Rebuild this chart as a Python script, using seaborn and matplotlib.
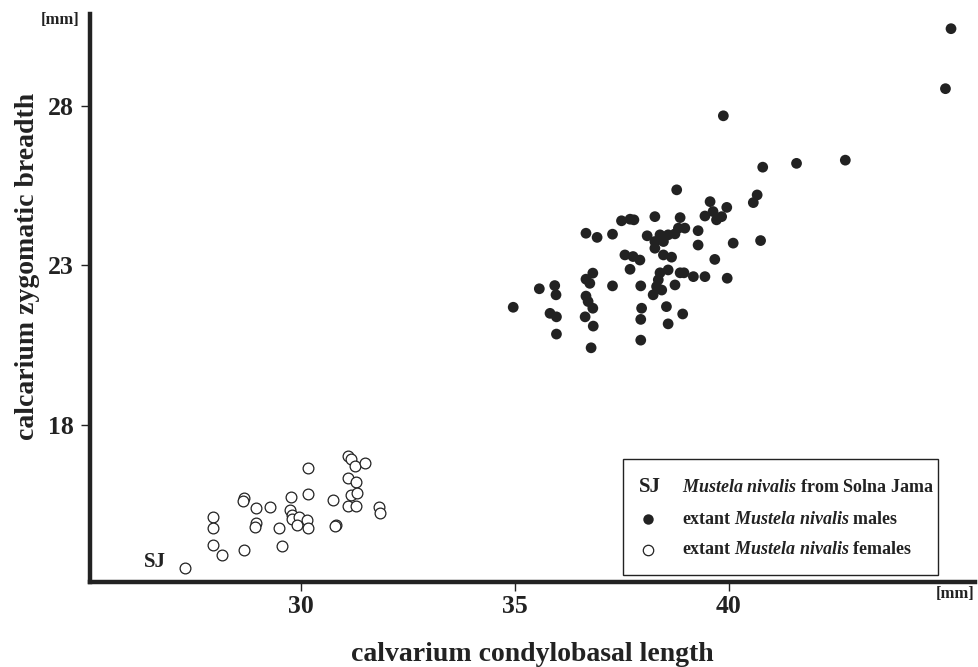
import numpy as np
import pandas as pd
import matplotlib
matplotlib.use('Agg')
import matplotlib.pyplot as plt
from matplotlib.lines import Line2D
from matplotlib.patches import Rectangle
import seaborn as sns

# extant females (open circles)
female_x = [27.95, 27.95, 27.95, 28.16, 28.67, 28.64, 28.96, 29.28, 28.96, 28.93,
            28.67, 29.49, 29.55, 29.77, 29.74, 29.78, 29.78, 29.96, 29.90, 30.15,
            30.16, 30.17, 30.16, 30.74, 30.82, 30.79, 31.11, 31.16, 31.26, 31.50,
            31.11, 31.28, 31.18, 31.30, 31.11, 31.28, 31.83, 31.85]
female_y = [15.13, 14.76, 14.24, 13.92, 15.70, 15.63, 15.39, 15.44, 14.92, 14.79,
            14.08, 14.76, 14.21, 15.75, 15.34, 15.18, 15.04, 15.11, 14.87, 15.02,
            14.78, 16.64, 15.84, 15.65, 14.87, 14.85, 17.04, 16.92, 16.71, 16.80,
            16.33, 16.20, 15.81, 15.88, 15.46, 15.46, 15.44, 15.23]

# extant males (filled)
male_x = [39.87, 40.79, 38.78, 40.66, 40.57, 39.56, 39.95, 39.63, 39.44, 39.71,
          39.83, 38.27, 38.86, 37.49, 37.69, 37.78, 38.97, 38.82, 39.28, 36.66,
          36.92, 37.28, 38.09, 38.39, 38.58, 38.74, 38.27, 38.47, 38.27, 39.28,
          40.10, 40.74, 37.57, 37.76, 37.92, 38.47, 38.66, 39.67, 37.69, 38.39,
          38.58, 38.86, 38.95, 39.17, 39.44, 39.96, 36.82, 36.66, 36.75, 37.28,
          37.94, 38.35, 38.31, 38.43, 38.23, 38.74, 35.57, 35.93, 35.96, 34.96,
          35.82, 35.97, 35.97, 36.66, 36.71, 36.82, 36.64, 36.83, 36.78, 37.96,
          37.94, 37.94, 38.54, 38.58, 38.92, 45.19, 45.06, 42.72, 41.58]
male_y = [27.69, 26.08, 25.37, 25.21, 24.97, 25.00, 24.82, 24.69, 24.55, 24.43,
          24.53, 24.53, 24.50, 24.40, 24.45, 24.43, 24.17, 24.17, 24.09, 24.01,
          23.88, 23.98, 23.93, 23.96, 23.96, 23.99, 23.75, 23.75, 23.54, 23.64,
          23.70, 23.78, 23.33, 23.28, 23.17, 23.33, 23.26, 23.19, 22.88, 22.77,
          22.86, 22.77, 22.77, 22.65, 22.65, 22.60, 22.76, 22.57, 22.44, 22.36,
          22.36, 22.55, 22.34, 22.23, 22.08, 22.39, 22.27, 22.37, 22.08, 21.69,
          21.50, 21.39, 20.85, 22.04, 21.87, 21.66, 21.39, 21.10, 20.42, 21.66,
          21.31, 20.66, 21.71, 21.17, 21.48, 30.42, 28.54, 26.30, 26.20]

# Solna Jama specimen
sj_x = [27.29]
sj_y = [13.53]

legend_labels = [
    r'$Mustela\ nivalis$ from Solna Jama',
    r'extant $Mustela\ nivalis$ males',
    r'extant $Mustela\ nivalis$ females',
]

df = pd.DataFrame({
    'length': female_x + male_x + sj_x,
    'breadth': female_y + male_y + sj_y,
    'group': ['female'] * len(female_x) + ['male'] * len(male_x) + ['SJ'],
})

sns.set_style('ticks')
plt.rcParams['font.family'] = ['Liberation Serif', 'DejaVu Serif']
plt.rcParams['font.weight'] = 'bold'
plt.rcParams['axes.labelweight'] = 'bold'
plt.rcParams['mathtext.fontset'] = 'custom'
plt.rcParams['mathtext.it'] = 'Liberation Serif:bold:italic'
plt.rcParams['mathtext.rm'] = 'Liberation Serif:bold'
plt.rcParams['mathtext.bf'] = 'Liberation Serif:bold'

ink = '#222222'
W, H = 979, 667
fig = plt.figure(figsize=(W / 100, H / 100), dpi=100)
ax = fig.add_axes([0.0919, 0.1274, 0.904, 0.8516])

sns.scatterplot(data=df[df.group == 'male'], x='length', y='breadth', ax=ax,
                color=ink, edgecolor='none', s=60, legend=False, zorder=3)
sns.scatterplot(data=df[df.group != 'male'], x='length', y='breadth', ax=ax,
                facecolor='white', edgecolor=ink, linewidth=0.9, s=60,
                legend=False, zorder=3)

ax.set_xlim(25.07, 45.75)
ax.set_ylim(13.08, 30.88)
ax.set_xticks([30, 35, 40])
ax.set_yticks([18, 23, 28])
sns.despine(ax=ax)
for side in ['left', 'bottom']:
    ax.spines[side].set_linewidth(3.2)
    ax.spines[side].set_color(ink)
ax.tick_params(direction='out', length=6.5, width=1, color=ink,
               labelsize=18.5, labelcolor=ink)
ax.tick_params(axis='y', pad=5)
ax.tick_params(axis='x', pad=3)
for lab in ax.get_xticklabels() + ax.get_yticklabels():
    lab.set_fontweight('bold')

ax.set_xlabel('calvarium condylobasal length', fontsize=20, color=ink, labelpad=17)
ax.set_ylabel('calcarium zygomatic breadth', fontsize=20, color=ink)
ax.yaxis.set_label_coords(-0.057, 0.555)

fig.text(60 / W, 1 - 20 / H, '[mm]', fontsize=12, color=ink, ha='center', va='center')
fig.text(955 / W, 1 - 594 / H, '[mm]', fontsize=12, color=ink, ha='center', va='center')

ax.text(26.59, 13.71, 'SJ', fontsize=15, color=ink, ha='center', va='center')

# legend box drawn by hand so the padding matches the original
fig.add_artist(Rectangle((623 / W, 1 - 575 / H), 315 / W, 116 / H,
                         transform=fig.transFigure, facecolor='white',
                         edgecolor=ink, linewidth=1.0, zorder=5))
rows = [487, 519, 550]
fig.text(650 / W, 1 - rows[0] / H, 'SJ', fontsize=15, color=ink,
         ha='center', va='center', zorder=6)
fig.add_artist(Line2D([648 / W], [1 - rows[1] / H], transform=fig.transFigure,
                      linestyle='none', marker='o', markersize=7.5, color=ink,
                      markeredgecolor='none', zorder=6))
fig.add_artist(Line2D([648 / W], [1 - rows[2] / H], transform=fig.transFigure,
                      linestyle='none', marker='o', markersize=7.5,
                      markerfacecolor='white', markeredgecolor=ink,
                      markeredgewidth=0.9, zorder=6))
for r, lab in zip(rows, legend_labels):
    fig.text(682 / W, 1 - r / H, lab, fontsize=13, color=ink,
             ha='left', va='center', zorder=6)

fig.savefig('out.png', dpi=100)
